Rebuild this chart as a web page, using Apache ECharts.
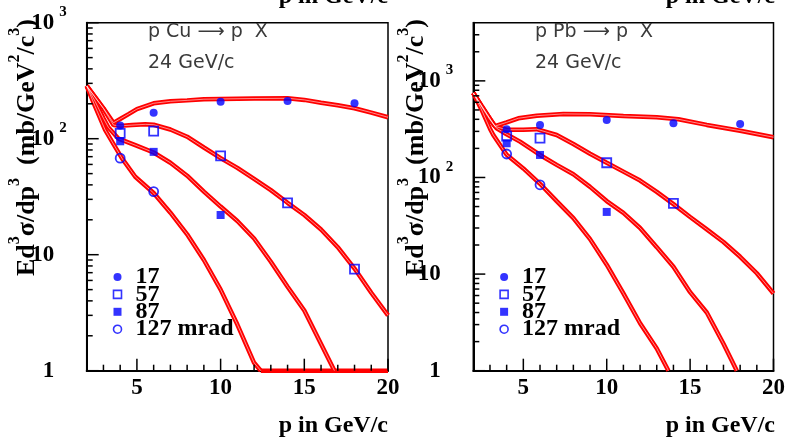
<!DOCTYPE html>
<html><head><meta charset="utf-8">
<script src="https://cdn.jsdelivr.net/npm/echarts@6/dist/echarts.min.js"></script>
<style>html,body{margin:0;padding:0;background:#fff}#c{width:788px;height:446px}</style>
</head><body><div id="c"></div>
<script>
// ---------- data ----------
const xMin = 2, xMax = 20, yMin = 1;
const majorX = [5, 10, 15, 20];
const minorX = [3, 4, 6, 7, 8, 9, 11, 12, 13, 14, 16, 17, 18, 19];
const majorY = [1, 10, 100, 1000];
const cuMinorY = [2,3,4,5,6,7,8,9,20,30,40,50,60,70,80,90,200,300,400,500,600,700,800,900];
const pbMinorY = [2,3,4,5,6,7,8,9,20,30,40,50,60,70,80,90,200,300,400,500,600,700,800,900,2000,3000];
const cuYMax = 1000, pbYMax = 4000;
const legendNames = ['17', '57', '87', '127 mrad'];

// p Cu -> p X, model curves [p, Ed3sigma/dp3]
const cuCurve17 = [[2,285],[2.5,228],[3,183],[3.6,137],[4,148],[4.5,163],[5,180],[6,202],[7,210],[8,214],[9,219],[10,220],[12,222],[14,223],[15,216],[16,204],[17,194],[18,183],[19,168],[20,153]];
const cuCurve57 = [[2,285],[2.5,228],[3,182],[3.6,131],[4,129],[4.7,131],[5.5,133],[6,132],[7,120],[8,104],[9,84],[10,68],[11,56],[12,45],[13,36],[14,28],[15,22],[16,16.5],[17,11.6],[18,7.6],[19,4.7],[20,3.0]];
const cuCurve87 = [[2,285],[2.5,210],[3,150],[3.3,125],[3.9,100],[4.9,88],[6,76],[7,62],[8,48],[9,35],[10,26],[11,19.5],[12,13.8],[13,8.7],[14,5.3],[15,3.3],[16,1.7],[16.8,1]];
const cuCurve127 = [[2,285],[2.5,190],[3.1,119],[3.7,85],[4.1,68],[4.9,47],[6,34],[7,23],[8,15],[9,9],[10,5.0],[11,2.5],[12,1.17],[12.4,1]];
const cuFloor127 = [[12.4,1],[20,1]];
// p Cu data points
const cuPts17 = [[4,130],[6,167],[10,208],[14,211],[18,202]];
const cuPts57 = [[4,111],[6,116],[10,71],[14,28],[18,7.5]];
const cuPts87 = [[4,95],[6,77],[10,22]];
const cuPts127 = [[4,68],[6,35]];

// p Pb -> p X, model curves
const pbCurve17 = [[2,750],[2.5,550],[3,405],[3.3,340],[4,372],[4.7,410],[5.8,436],[7.4,455],[9,452],[11,433],[13,420],[14.3,400],[16,350],[18,305],[20,261]];
const pbCurve57 = [[2,750],[2.5,550],[3,405],[3.3,338],[4,312],[5,312],[5.8,316],[7,275],[8,222],[9,176],[10,142],[11,115],[12,93],[13,71],[14,53],[15,39],[16,29],[17,21.5],[18,15.1],[19,10.2],[20,6.3]];
const pbCurve87 = [[2,750],[2.5,540],[3,395],[3.4,323],[4,280],[4.8,235],[6,171],[7,135],[8,108],[9,80],[10,57],[11,43],[12,30],[13,19],[14,11.9],[15,6.5],[16,4.0],[17,1.9],[17.8,1]];
const pbCurve127 = [[2,750],[2.5,500],[3,320],[3.2,275],[4,172],[5,124],[6,86],[7,57],[8,38],[9,23],[10,12.5],[11,6.3],[12,3.1],[13,1.7],[13.7,1]];
// p Pb data points
const pbPts17 = [[4,315],[6,349],[10,394],[14,364],[18,358]];
const pbPts57 = [[4,268],[6,255],[10,142],[14,54]];
const pbPts87 = [[4,226],[6,171],[10,44]];
const pbPts127 = [[4,175],[6,84]];

// ---------- style ----------
const SERIF = 'Liberation Serif';
const SANS = 'DejaVu Sans';
const BLUE = '#0000ff';
const RED = '#ff0000';
const HOLLOW = 'rgba(0,0,0,0)';

const chart = echarts.init(document.getElementById('c'), null, {renderer: 'canvas'});

const grids = [
  {left: 86.7, top: 22.7, width: 301.3, height: 348},
  {left: 473.3, top: 22.7, width: 301.7, height: 348}
];

function yLabelFmt(v) {
  if (v === 1) return '{m|1}{p| }';
  if (v === 10) return '{m|10}{p| }';
  if (v === 100) return '{h| }{m|10}{e|2}';
  if (v === 1000) return '{h| }{m|10}{e|3}';
  return '';
}
const yRich = {
  m: {fontFamily: SERIF, fontSize: 23, fontWeight: 'bold', color: '#000', lineHeight: 23, verticalAlign: 'middle'},
  e: {fontFamily: SERIF, fontSize: 15, fontWeight: 'bold', color: '#000', lineHeight: 15, verticalAlign: 'top', padding: [0,0,0,5]},
  p: {fontSize: 15, width: 12.5},
  h: {fontSize: 1, lineHeight: 36, width: 0}
};

function xAxis(g) {
  return {gridIndex: g, type: 'value', min: xMin, max: xMax, position: 'bottom',
    axisLine: {show: true, lineStyle: {color: '#000', width: 2}},
    axisTick: {show: false},
    axisLabel: {customValues: majorX, margin: 6, fontFamily: SERIF, fontSize: 23, fontWeight: 'bold', color: '#000'},
    splitLine: {show: false}};
}
function yAxis(g, ymax) {
  return {gridIndex: g, type: 'log', logBase: 10, min: yMin, max: ymax, position: 'left',
    axisLine: {show: true, lineStyle: {color: '#000', width: 2}},
    axisTick: {show: false},
    axisLabel: {customValues: majorY, margin: 20, formatter: yLabelFmt, rich: yRich},
    splitLine: {show: false}};
}

// inward tick marks, placed through the axis scales
function ticks(ai, pairs, horizontal, len) {
  return {type: 'custom', name: 'ticks' + ai + (horizontal ? 'y' : 'x') + len,
    coordinateSystem: 'cartesian2d', xAxisIndex: ai, yAxisIndex: ai,
    data: pairs, encode: {x: 0, y: 1}, clip: false, silent: true, z: 7,
    renderItem: function (params, api) {
      const p = api.coord([api.value(0), api.value(1)]);
      return {type: 'line',
        shape: horizontal ? {x1: p[0], y1: p[1], x2: p[0] + len, y2: p[1]} : {x1: p[0], y1: p[1], x2: p[0], y2: p[1] - len},
        style: {stroke: '#000', lineWidth: 1.5}};
    }};
}
function tickSet(ai, minorY, ymax) {
  return [
    ticks(ai, majorX.map(v => [v, yMin]), false, 12),
    ticks(ai, minorX.map(v => [v, yMin]), false, 6),
    ticks(ai, majorY.filter(v => v <= ymax).map(v => [xMin, v]), true, 12),
    ticks(ai, minorY.map(v => [xMin, v]), true, 6)
  ];
}

function curve(name, data, ai, core) {
  const s = [{type: 'line', name: name, data: data, xAxisIndex: ai, yAxisIndex: ai,
    symbol: 'none', showSymbol: false, clip: false, silent: true, z: 3,
    lineStyle: {color: RED, width: 4.5}}];
  if (core !== false) {
    s.push({type: 'line', name: name + ' core', data: data, xAxisIndex: ai, yAxisIndex: ai,
      symbol: 'none', showSymbol: false, clip: false, silent: true, z: 4,
      lineStyle: {color: '#fff', width: 1.0, opacity: 0.55}});
  }
  return s;
}
function points(ai, p17, p57, p87, p127) {
  return [
    {type: 'scatter', name: legendNames[0], data: p17, xAxisIndex: ai, yAxisIndex: ai, symbol: 'circle', symbolSize: 8, itemStyle: {color: BLUE}, z: 6},
    {type: 'scatter', name: legendNames[1], data: p57, xAxisIndex: ai, yAxisIndex: ai, symbol: 'rect', symbolSize: 9, itemStyle: {color: HOLLOW, borderColor: BLUE, borderWidth: 1.8}, z: 6},
    {type: 'scatter', name: legendNames[2], data: p87, xAxisIndex: ai, yAxisIndex: ai, symbol: 'rect', symbolSize: 8, itemStyle: {color: BLUE}, z: 6},
    {type: 'scatter', name: legendNames[3], data: p127, xAxisIndex: ai, yAxisIndex: ai, symbol: 'circle', symbolSize: 9, itemStyle: {color: HOLLOW, borderColor: BLUE, borderWidth: 1.8}, z: 6}
  ];
}

const legendData = [
  {name: legendNames[0], icon: 'circle', itemStyle: {color: BLUE}},
  {name: legendNames[1], icon: 'rect', itemStyle: {color: HOLLOW, borderColor: BLUE, borderWidth: 1.6}},
  {name: legendNames[2], icon: 'rect', itemStyle: {color: BLUE}},
  {name: legendNames[3], icon: 'circle', itemStyle: {color: HOLLOW, borderColor: BLUE, borderWidth: 1.6}}
];
function legendAt(left, top) {
  return {orient: 'vertical', left: left, top: top, padding: 0, itemGap: -6.6, itemWidth: 8, itemHeight: 8,
    selectedMode: false, data: legendData,
    textStyle: {fontFamily: SERIF, fontSize: 24, fontWeight: 'bold', color: '#000', lineHeight: 17, padding: [0,0,0,9]}};
}

const yTitle = '{n|Ed}{s|3}{n|σ/dp}{s|3}{n|  (mb/GeV}{s|2}{n|/c}{s|3}{n|)}{h| }';
const yTitleRich = {
  n: {fontFamily: SERIF, fontSize: 26, fontWeight: 'bold', fill: '#000', lineHeight: 26, verticalAlign: 'middle'},
  s: {fontFamily: SERIF, fontSize: 16, fontWeight: 'bold', fill: '#000', lineHeight: 16, verticalAlign: 'top'},
  h: {fontSize: 1, lineHeight: 41, width: 0}
};
function txt(x, y, text, opt) {
  return {type: 'text', x: x, y: y, silent: true, z: 10,
    style: Object.assign({text: text, fill: '#000', align: 'left', verticalAlign: 'middle'}, opt)};
}
const titleStyle = {fontFamily: SERIF, fontSize: 24, fontWeight: 'bold', align: 'right'};
const reactStyle = {fontFamily: SANS, fontSize: 19, fill: '#3a3a3a'};

const option = {
  animation: false,
  backgroundColor: '#fff',
  grid: grids.map(g => Object.assign({show: true, borderColor: '#000', borderWidth: 1.5, containLabel: false}, g)),
  xAxis: [xAxis(0), xAxis(1)],
  yAxis: [yAxis(0, cuYMax), yAxis(1, pbYMax)],
  legend: [legendAt(112.7, 265), legendAt(499.3, 265)],
  series: [
    ...curve('Cu 17', cuCurve17, 0), ...curve('Cu 57', cuCurve57, 0),
    ...curve('Cu 87', cuCurve87, 0), ...curve('Cu 127', cuCurve127, 0),
    ...curve('Cu 127 floor', cuFloor127, 0, false),
    ...points(0, cuPts17, cuPts57, cuPts87, cuPts127),
    ...tickSet(0, cuMinorY, cuYMax),
    ...curve('Pb 17', pbCurve17, 1), ...curve('Pb 57', pbCurve57, 1),
    ...curve('Pb 87', pbCurve87, 1), ...curve('Pb 127', pbCurve127, 1),
    ...points(1, pbPts17, pbPts57, pbPts87, pbPts127),
    ...tickSet(1, pbMinorY, pbYMax)
  ],
  graphic: [
    {type: 'text', x: 27, y: 147.5, rotation: Math.PI / 2, silent: true, z: 10,
     style: {text: yTitle, rich: yTitleRich, align: 'center', verticalAlign: 'middle'}},
    {type: 'text', x: 416, y: 147.5, rotation: Math.PI / 2, silent: true, z: 10,
     style: {text: yTitle, rich: yTitleRich, align: 'center', verticalAlign: 'middle'}},
    txt(148, 32.5, 'p Cu ⟶ p  X', reactStyle),
    txt(148, 63, '24 GeV/c', reactStyle),
    txt(535, 32.5, 'p Pb ⟶ p  X', reactStyle),
    txt(535, 63, '24 GeV/c', reactStyle),
    txt(388, 426, 'p in GeV/c', titleStyle),
    txt(775, 426, 'p in GeV/c', titleStyle),
    txt(388, -3, 'p in GeV/c', titleStyle),
    txt(775, -3, 'p in GeV/c', titleStyle)
  ]
};
chart.setOption(option);
</script></body></html>
